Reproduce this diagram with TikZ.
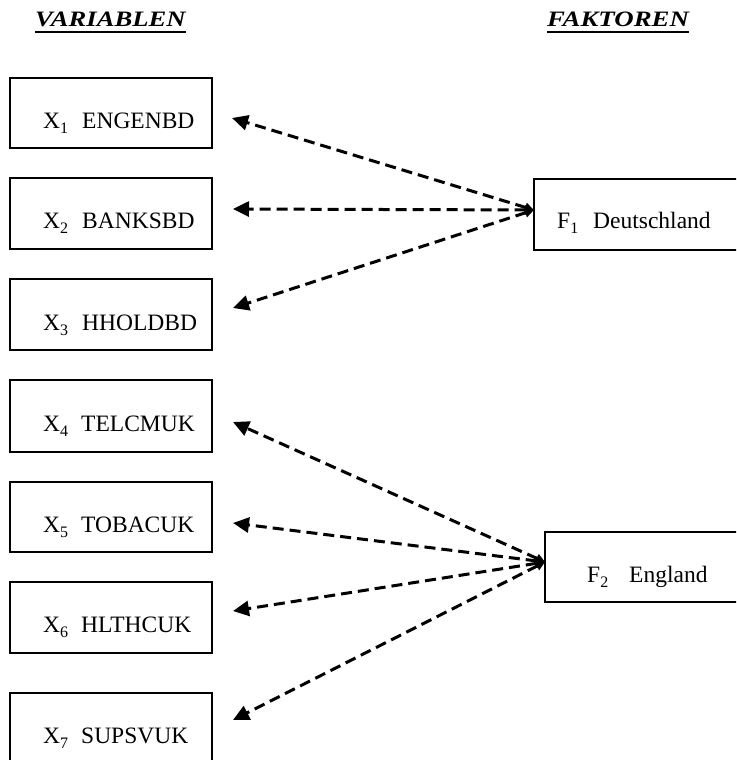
\documentclass[tikz,border=0pt]{standalone}
\usepackage{fontspec}
\setmainfont{Liberation Serif}
\usetikzlibrary{arrows.meta}
% index set low and small, as in the labels
\newcommand{\idx}[1]{\raisebox{-5pt}{\fontsize{16}{16}\selectfont #1}}
\newcommand{\lbl}[3]{\makebox[#1][l]{#2}#3}
\begin{document}
\begin{tikzpicture}[x=1pt,y=-1pt,
  varbox/.style={draw=black,line width=1.3pt},
  label/.style={anchor=base west,inner sep=0pt,font=\fontsize{23.5}{28}\selectfont},
  heading/.style={anchor=base west,inner sep=0pt,font=\fontsize{22}{26}\selectfont\bfseries\itshape},
  load/.style={line width=3pt,dash pattern=on 11pt off 6pt,
    {Triangle[length=9pt,width=9pt]}-{Triangle[length=16pt,width=15pt]}}
]
\useasboundingbox (0,0) rectangle (736,760);
\clip (0,0) rectangle (736,760);

% headings
\node[heading] (hv) at (35,27) {\scalebox{1.21}[1]{VARIABLEN}};
\node[heading] (hf) at (547,27) {\scalebox{1.22}[1]{FAKTOREN}};
\draw[line width=2pt] ([yshift=-5pt]hv.base west) -- ([yshift=-5pt]hv.base east);
\draw[line width=2pt] ([yshift=-5pt]hf.base west) -- ([yshift=-5pt]hf.base east);

% variable boxes
\draw[varbox] (10,78)  rectangle (212,148);
\draw[varbox] (10,178) rectangle (212,249);
\draw[varbox] (10,279) rectangle (212,350);
\draw[varbox] (10,380) rectangle (212,452);
\draw[varbox] (10,482) rectangle (212,552);
\draw[varbox] (10,582) rectangle (212,653);
\draw[varbox] (10,693) rectangle (212,770);

\node[label] (x1) at (43,128) {\lbl{39pt}{X\idx{1}}{ENGENBD}};
\node[label] (x2) at (43,228) {\lbl{39pt}{X\idx{2}}{BANKSBD}};
\node[label] (x3) at (43,330) {\lbl{39pt}{X\idx{3}}{HHOLDBD}};
\node[label] (x4) at (43,431) {\lbl{38pt}{X\idx{4}}{TELCMUK}};
\node[label] (x5) at (43,532) {\lbl{38pt}{X\idx{5}}{TOBACUK}};
\node[label] (x6) at (43,632) {\lbl{38pt}{X\idx{6}}{HLTHCUK}};
\node[label] (x7) at (43,743) {\lbl{38pt}{X\idx{7}}{SUPSVUK}};

% factor boxes
\draw[varbox] (534,179) rectangle (750,250);
\draw[varbox] (545,532) rectangle (750,602);
\node[label] (f1) at (557,228) {\lbl{36pt}{F\idx{1}}{Deutschland}};
\node[label] (f2) at (587,582) {\lbl{42pt}{F\idx{2}}{England}};

% arrow end points
\coordinate (fa) at (534,210);
\coordinate (fb) at (545,562);
\coordinate (a1) at (232,118);
\coordinate (a2) at (233,209);
\coordinate (a3) at (233,308);
\coordinate (a4) at (233,422);
\coordinate (a5) at (233,523);
\coordinate (a6) at (233,611);
\coordinate (a7) at (233,720);

% factor loadings
\foreach \v in {a1,a2,a3} \draw[load] (fa) -- (\v);
\foreach \v in {a4,a5,a6,a7} \draw[load] (fb) -- (\v);
\end{tikzpicture}
\end{document}
